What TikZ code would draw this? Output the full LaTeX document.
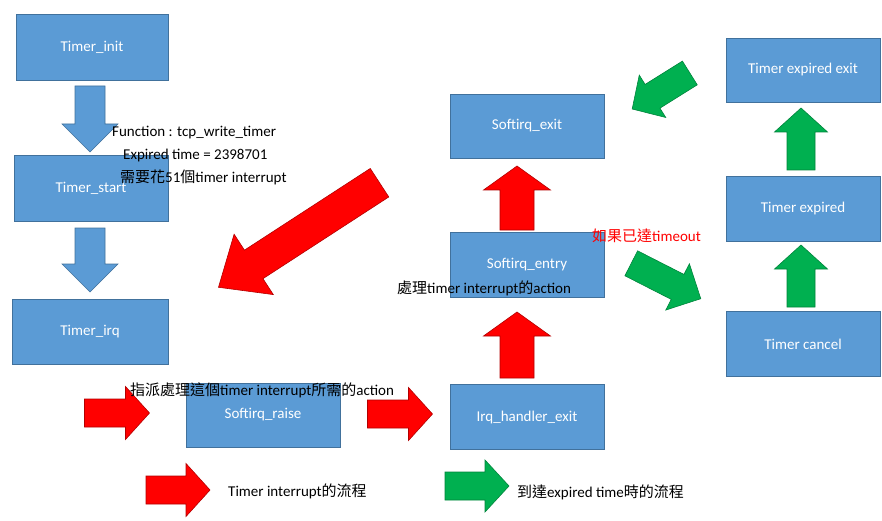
\documentclass[tikz,border=0pt]{standalone}
\usepackage{fontspec}
\setmainfont{Carlito}
\newfontfamily\cjk{Noto Sans CJK TC}
\begin{document}
\begin{tikzpicture}[x=1pt,y=-1pt,
  box/.style={draw=boxedge,fill=boxfill,line width=0.8pt,text=white,font=\fontsize{15}{17}\selectfont},
  lbl/.style={inner sep=0pt,font=\fontsize{15}{17}\selectfont,anchor=west},
  redarr/.style={fill=red,draw=red!70!black,line width=0.6pt},
  grnarr/.style={fill=grn,draw=grn!75!black,line width=0.6pt},
  bluarr/.style={fill=boxfill,draw=boxedge,line width=0.6pt}]
\definecolor{boxfill}{HTML}{5B9BD5}
\definecolor{boxedge}{HTML}{41719C}
\definecolor{grn}{HTML}{00B050}
\newcommand\barrow[8]{% style, cx, cy, angle, L, W, s, h
  \begin{scope}[shift={(#2,#3)},rotate=#4]
  \draw[#1] (-#5/2,-#7/2) -- (#5/2-#8,-#7/2) -- (#5/2-#8,-#6/2) -- (#5/2,0)
    -- (#5/2-#8,#6/2) -- (#5/2-#8,#7/2) -- (-#5/2,#7/2) -- cycle;
  \end{scope}}
\useasboundingbox (0,0) rectangle (882,521);
% boxes
\node[box,minimum width=152,minimum height=66] (init) at (92,47) {Timer\_init};
\node[box,minimum width=154,minimum height=66] (start) at (91,188) {Timer\_start};
\node[box,minimum width=156,minimum height=65] (irq) at (90,332) {Timer\_irq};
\node[box,minimum width=154,minimum height=64] (raise) at (263,415) {Softirq\_raise};
\node[box,minimum width=154,minimum height=65] (hexit) at (527,417) {Irq\_handler\_exit};
\node[box,minimum width=154,minimum height=65] (sentry) at (527,265) {Softirq\_entry};
\node[box,minimum width=154,minimum height=64] (sexit) at (527,126) {Softirq\_exit};
\node[box,minimum width=154,minimum height=64] (texit) at (803,70) {Timer expired exit};
\node[box,minimum width=154,minimum height=65] (texp) at (803,209) {Timer expired};
\node[box,minimum width=154,minimum height=65] (tcan) at (803,344) {Timer cancel};
% blue arrows
\barrow{bluarr}{90}{119}{-90}{66}{56}{30}{28}
\barrow{bluarr}{90}{260}{-90}{64}{56}{30}{28}
% red arrows
\barrow{redarr}{299}{235}{-147}{192}{72}{34}{42}
\barrow{redarr}{117}{413}{0}{65}{53}{28}{24}
\barrow{redarr}{400}{414}{0}{65}{53}{28}{24}
\barrow{redarr}{517}{345}{90}{66}{67}{34}{24}
\barrow{redarr}{517}{198}{90}{64}{67}{34}{24}
\barrow{redarr}{178}{490}{0}{64}{53}{28}{24}
% green arrows
\barrow{grnarr}{801}{139}{90}{62}{53}{28}{24}
\barrow{grnarr}{801}{276}{90}{62}{53}{28}{24}
\barrow{grnarr}{661}{91}{-148}{68}{50}{28}{24}
\barrow{grnarr}{666}{281}{-27}{78}{52}{28}{26}
\barrow{grnarr}{477}{486}{0}{64}{52}{28}{24}
% texts
\node[lbl] (t1) at (112,133) {Function : tcp\_write\_timer};
\node[lbl] (t2) at (123,156) {Expired time = 2398701};
\node[lbl] (t3) at (120,177) {{\cjk 需要花}51{\cjk 個}timer interrupt};
\node[lbl] (t4) at (130,390) {{\cjk 指派處理這個}timer interrupt{\cjk 所需的}action};
\node[lbl] (t5) at (397,288) {{\cjk 處理}timer interrupt{\cjk 的}action};
\node[lbl,text=red] (t6) at (592,236) {{\cjk 如果已達}timeout};
\node[lbl] (t7) at (228,491) {Timer interrupt{\cjk 的流程}};
\node[lbl] (t8) at (517,492) {{\cjk 到達}expired time{\cjk 時的流程}};
\end{tikzpicture}
\end{document}
